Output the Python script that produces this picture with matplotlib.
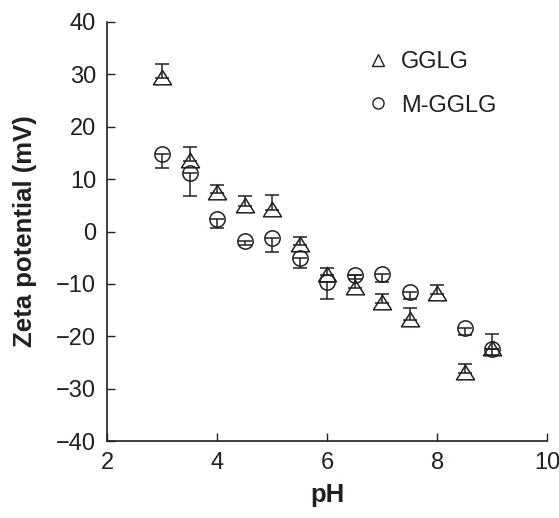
import matplotlib
matplotlib.use("Agg")
import matplotlib.pyplot as plt
import numpy as np
from matplotlib.lines import Line2D
from matplotlib.path import Path

plt.rcParams['font.family'] = ['Liberation Sans', 'DejaVu Sans']

ph_gglg = [3, 3.5, 4, 4.5, 5, 5.5, 6, 6.5, 7, 7.5, 8, 8.5, 9]
zeta_gglg = [29.3, 13.4, 7.4, 4.8, 4.2, -2.5, -8.2, -10.7, -13.7, -16.9, -12.0, -26.9, -22.3]
err_gglg = [2.6, 2.8, 1.5, 1.9, 2.8, 1.5, 1.3, 2.4, 1.7, 2.4, 1.9, 1.6, 2.7]

ph_mgglg = [3, 3.5, 4, 4.5, 5, 5.5, 6, 6.5, 7, 7.5, 8.5, 9]
zeta_mgglg = [14.8, 11.2, 2.4, -1.8, -1.2, -5.0, -9.6, -8.3, -8.0, -11.5, -18.4, -22.3]
err_mgglg = [2.7, 4.5, 1.7, 0.8, 2.7, 1.9, 3.3, 0.8, 1.6, 1.3, 1.4, 1.3]

xticks = [2, 4, 6, 8, 10]
yticks = [-40, -30, -20, -10, 0, 10, 20, 30, 40]

tri = Path([(-0.5, -0.35), (0.5, -0.35), (0.0, 0.45), (-0.5, -0.35)],
           [Path.MOVETO, Path.LINETO, Path.LINETO, Path.CLOSEPOLY])

fig = plt.figure(figsize=(5.59, 5.18), dpi=100)
ax = fig.add_axes([0.192, 0.148, 0.7865, 0.81])

c = '#231f20'
ax.errorbar(ph_gglg, zeta_gglg, yerr=[np.zeros(len(err_gglg)), err_gglg],
            fmt='none', ecolor=c, elinewidth=1.1, capsize=4.7, capthick=1.1)
ax.plot(ph_gglg, zeta_gglg, ls='none', marker=tri, ms=13, mfc='none', mec=c, mew=1.1)
ax.errorbar(ph_mgglg, zeta_mgglg, yerr=[err_mgglg, np.zeros(len(err_mgglg))],
            fmt='o', ms=11, mfc='none', mec=c, mew=1.1, ecolor=c, elinewidth=1.1,
            capsize=4.7, capthick=1.1)

ax.set_xlim(2, 10)
ax.set_ylim(-40, 40)
ax.set_xticks(xticks)
ax.set_yticks(yticks)
ax.set_yticklabels([str(v).replace('-', '\u2212') for v in yticks])
ax.tick_params(direction='in', length=6, width=1.0, labelsize=17, colors=c, pad=8)
for s in ['top', 'right']:
    ax.spines[s].set_visible(False)
for s in ['left', 'bottom']:
    ax.spines[s].set_color(c)
    ax.spines[s].set_linewidth(1.2)

ax.set_xlabel('pH', fontsize=18.5, fontweight='bold', color=c, labelpad=6)
ax.set_ylabel('Zeta potential (mV)', fontsize=18.5, fontweight='bold', color=c, labelpad=14)

handles = [Line2D([], [], marker='^', ls='none', ms=8, mfc='none', mec=c, mew=1.0),
           Line2D([], [], marker='o', ls='none', ms=8, mfc='none', mec=c, mew=1.0)]
ax.legend(handles, ['GGLG', 'M-GGLG'], loc='upper left', bbox_to_anchor=(0.545, 0.98),
          frameon=False, fontsize=17, handlelength=0.8, handletextpad=0.6,
          labelspacing=0.9, labelcolor=c)

fig.savefig('out.png', dpi=100)
